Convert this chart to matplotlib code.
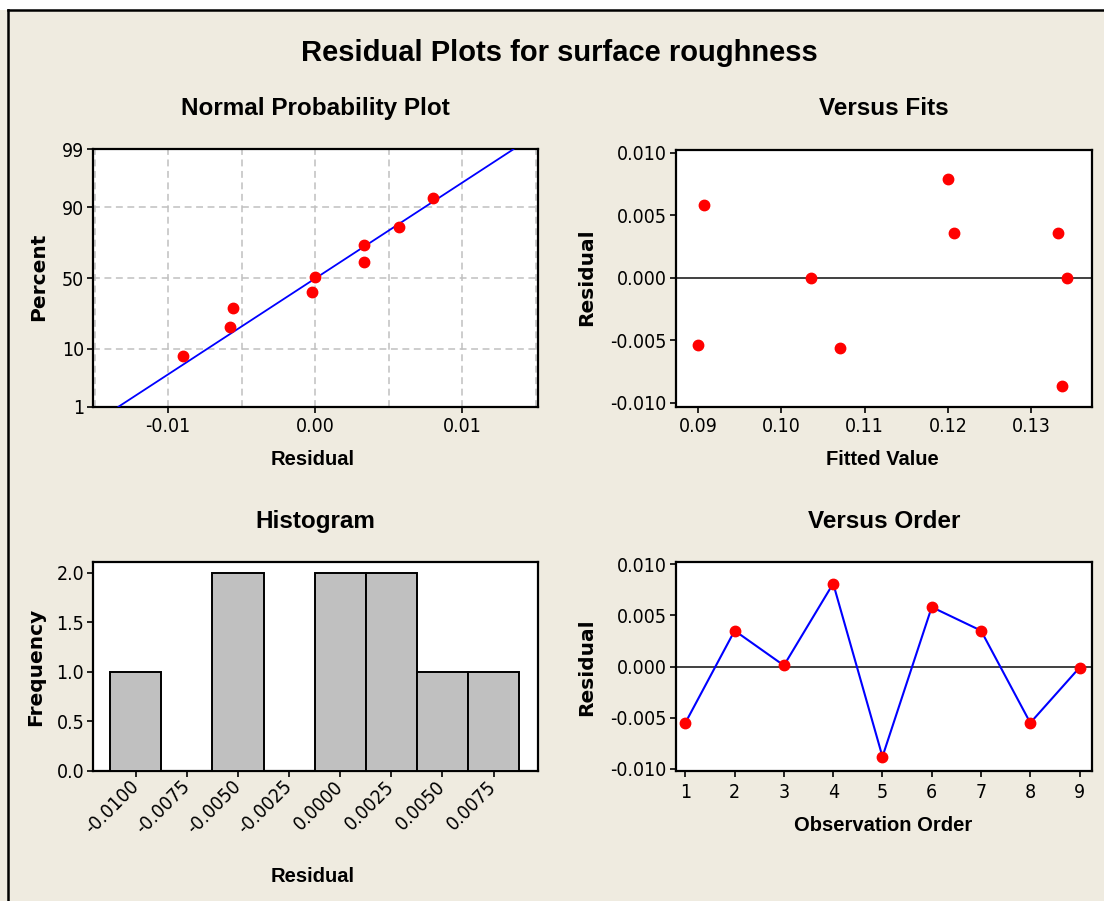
import matplotlib
matplotlib.use('Agg')
import numpy as np
import matplotlib.pyplot as plt
from matplotlib import font_manager
from matplotlib.lines import Line2D
from matplotlib.patches import Rectangle
from matplotlib.scale import FuncScale
from matplotlib.ticker import FixedLocator, FormatStrFormatter
from statistics import NormalDist

# datos
np_resid = [-0.0090, -0.0058, -0.0056, -0.0002, 0.0000, 0.0033, 0.0033, 0.0057, 0.0080]
np_pct = [7.9, 18.7, 29.2, 40.0, 50.5, 61.5, 72.2, 82.3, 92.6]
fit_line_x = [-0.01338, 0.01346]
fit_line_pct = [1, 99]

fits_x = [0.0900, 0.0907, 0.1036, 0.1071, 0.1200, 0.1207, 0.1332, 0.1337, 0.1343]
fits_y = [-0.0054, 0.0058, 0.0000, -0.0056, 0.0079, 0.0036, 0.0036, -0.0087, 0.0000]

hist_centers = [-0.0100, -0.0075, -0.0050, -0.0025, 0.0000, 0.0025, 0.0050, 0.0075]
hist_counts = [1, 0, 2, 0, 2, 2, 1, 1]
hist_width = 0.0025

order_x = [1, 2, 3, 4, 5, 6, 7, 8, 9]
order_y = [-0.0055, 0.0035, 0.0001, 0.0081, -0.0088, 0.0058, 0.0035, -0.0055, -0.0001]

# fuentes: una estrecha para los ticks si existe
entradas = font_manager.fontManager.ttflist
nombres = {f.name for f in entradas}
STRETCH = 'normal'
if 'Liberation Sans Narrow' in nombres:
    NARROW, TICK_SIZE = 'Liberation Sans Narrow', 15.5
elif any(f.name == 'DejaVu Sans' and f.stretch == 'condensed' for f in entradas):
    NARROW, TICK_SIZE, STRETCH = 'DejaVu Sans', 14, 'condensed'
elif 'DejaVu Sans Condensed' in nombres:
    NARROW, TICK_SIZE = 'DejaVu Sans Condensed', 14
else:
    NARROW, TICK_SIZE = 'Liberation Sans', 14
BOLD = 'Liberation Sans'
plt.rcParams['font.family'] = [NARROW, 'DejaVu Sans']
plt.rcParams['font.stretch'] = STRETCH
plt.rcParams['axes.unicode_minus'] = False

W, H = 1104, 901
BG = '#EFEBE0'
fig = plt.figure(figsize=(W / 100, H / 100), dpi=100, facecolor=BG)


def fx(px):
    return px / W


def fy(py):
    return 1 - py / H


def caja(l, t, r, b):
    return [fx(l), fy(b), (r - l) / W, (b - t) / H]


def estilo(ax, xpad=3.5):
    ax.set_facecolor('white')
    for s in ax.spines.values():
        s.set_linewidth(1.6)
        s.set_color('black')
    ax.tick_params(direction='out', length=4, width=1.2, labelsize=TICK_SIZE)
    ax.tick_params(axis='x', pad=xpad)
    ax.tick_params(axis='y', pad=2.5)
    ax.tick_params(which='minor', length=0)


# franja blanca y marco
fig.add_artist(Rectangle((0, fy(10)), 1, 1 - fy(10), transform=fig.transFigure,
                         facecolor='white', edgecolor='none', zorder=0))
fig.add_artist(Line2D([fx(8), 1], [fy(10), fy(10)], color='black', lw=1.8))
fig.add_artist(Line2D([fx(8), fx(8)], [fy(10), 0], color='black', lw=1.8))

fig.text(fx(559), fy(61), 'Residual Plots for surface roughness', ha='center',
         va='baseline', fontsize=21, fontweight='bold', family=BOLD, stretch='normal')

# --- Normal Probability Plot ---
ax1 = fig.add_axes(caja(93.2, 149.3, 537.5, 406.7))
nd = NormalDist()
fwd = np.vectorize(lambda p: nd.inv_cdf(min(max(p, 1e-6), 100 - 1e-6) / 100), otypes=[float])
inv = np.vectorize(lambda z: nd.cdf(z) * 100, otypes=[float])
ax1.set_yscale(FuncScale(ax1, (fwd, inv)))
ax1.set_ylim(1, 99)
ax1.set_xlim(-0.0151, 0.0151)
ax1.yaxis.set_major_locator(FixedLocator([1, 10, 50, 90, 99]))
ax1.set_yticklabels(['1', '10', '50', '90', '99'])
ax1.yaxis.set_minor_locator(FixedLocator([]))
ax1.xaxis.set_major_locator(FixedLocator([-0.01, 0.0, 0.01]))
ax1.xaxis.set_major_formatter(FormatStrFormatter('%.2f'))
ax1.xaxis.set_minor_locator(FixedLocator([-0.015, -0.005, 0.005, 0.015]))
ax1.grid(True, which='both', color='#C0C0C0', lw=1.1, ls=(0, (4.5, 3)))
ax1.set_axisbelow(True)
ax1.plot(fit_line_x, fit_line_pct, color='#0000FF', lw=1.3, zorder=3)
ax1.plot(np_resid, np_pct, 'o', color='#FF0000', ms=7.5, mec='#FF0000', zorder=4)
estilo(ax1)

# --- Versus Fits ---
ax2 = fig.add_axes(caja(675.5, 150, 1091.9, 406.7))
ax2.set_xlim(0.0873, 0.1373)
ax2.set_ylim(-0.01032, 0.01022)
ax2.set_xticks([0.09, 0.10, 0.11, 0.12, 0.13])
ax2.xaxis.set_major_formatter(FormatStrFormatter('%.2f'))
ax2.set_yticks([-0.010, -0.005, 0.0, 0.005, 0.010])
ax2.yaxis.set_major_formatter(FormatStrFormatter('%.3f'))
ax2.axhline(0, color='#404040', lw=1.4, zorder=2)
ax2.plot(fits_x, fits_y, 'o', color='#FF0000', ms=7.5, zorder=4)
estilo(ax2)

# --- Histogram ---
ax3 = fig.add_axes(caja(93.2, 562, 537.5, 771))
ax3.bar(hist_centers, hist_counts, width=hist_width, color='#C0C0C0',
        edgecolor='black', lw=1.4, zorder=3)
ax3.set_xlim(-0.01208, 0.00965)
ax3.set_ylim(0, 2.11)
ax3.set_xticks(hist_centers)
ax3.xaxis.set_major_formatter(FormatStrFormatter('%.4f'))
ax3.set_yticks([0.0, 0.5, 1.0, 1.5, 2.0])
ax3.yaxis.set_major_formatter(FormatStrFormatter('%.1f'))
estilo(ax3, xpad=5)
for lab in ax3.get_xticklabels():
    lab.set_rotation(45)
    lab.set_ha('right')
    lab.set_va('center')
    lab.set_rotation_mode('anchor')

# --- Versus Order ---
ax4 = fig.add_axes(caja(675.5, 562, 1091.9, 771))
ax4.set_xlim(0.8, 9.25)
ax4.set_ylim(-0.0102, 0.0102)
ax4.set_xticks(order_x)
ax4.set_yticks([-0.010, -0.005, 0.0, 0.005, 0.010])
ax4.yaxis.set_major_formatter(FormatStrFormatter('%.3f'))
ax4.axhline(0, color='#404040', lw=1.4, zorder=2)
ax4.plot(order_x, order_y, '-', color='#0000FF', lw=1.5, zorder=3)
ax4.plot(order_x, order_y, 'o', color='#FF0000', ms=7.5, zorder=4)
estilo(ax4, xpad=5)

# titulos de paneles
for txt, x, y in [('Normal Probability Plot', 315.4, 115), ('Versus Fits', 883.7, 115),
                  ('Histogram', 315.4, 528), ('Versus Order', 883.7, 528)]:
    fig.text(fx(x), fy(y), txt, ha='center', va='baseline', fontsize=17.5,
             fontweight='bold', family=BOLD, stretch='normal')

# etiquetas de ejes
for txt, x, y in [('Residual', 312.5, 465), ('Fitted Value', 882.7, 465),
                  ('Residual', 312.5, 882), ('Observation Order', 882.7, 831)]:
    fig.text(fx(x), fy(y), txt, ha='center', va='baseline', fontsize=14.5,
             fontweight='bold', family=BOLD, stretch='normal')
for txt, x, y in [('Percent', 38.5, 276.7), ('Residual', 587, 276.7),
                  ('Frequency', 35.7, 666.7), ('Residual', 587, 666.7)]:
    fig.text(fx(x), fy(y), txt, ha='center', va='center', rotation=90,
             fontsize=14.5, fontweight='bold', family='DejaVu Sans', stretch='normal')

fig.savefig('out.png', dpi=100, facecolor=BG)
